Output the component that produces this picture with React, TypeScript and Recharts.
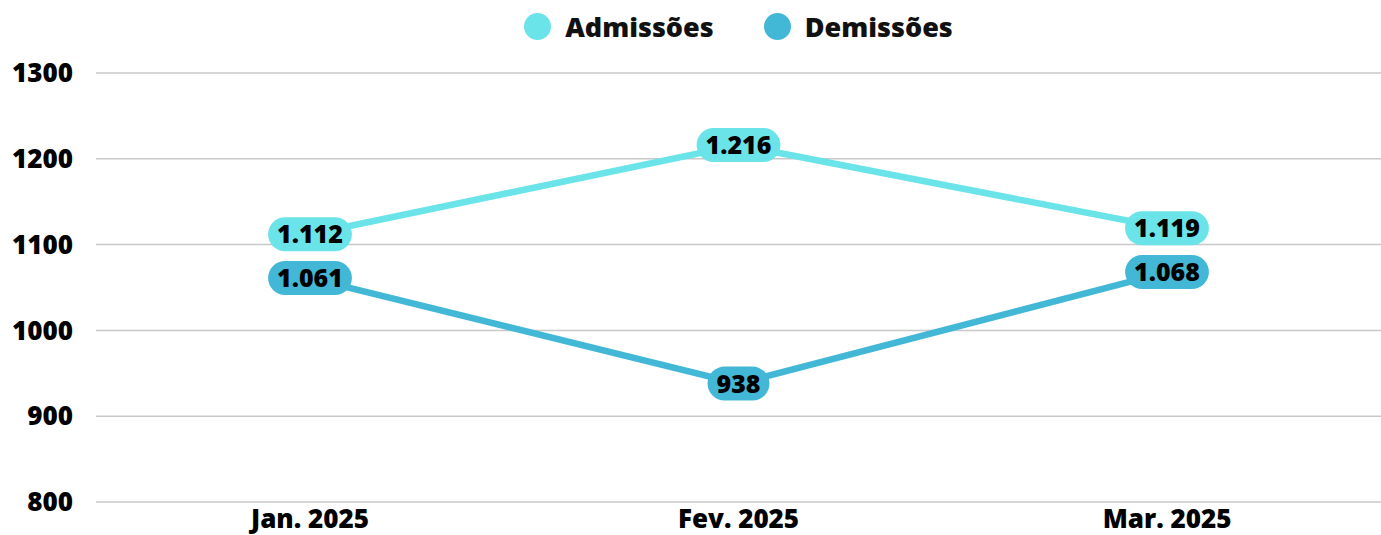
import { CartesianGrid, Legend, LabelList, Line, LineChart, XAxis, YAxis } from "recharts";

const months = ["Jan. 2025", "Fev. 2025", "Mar. 2025"];
const admissoes = [1112, 1216, 1119];
const demissoes = [1061, 938, 1068];
const yTicks = [800, 900, 1000, 1100, 1200, 1300];

const FONT = "'Open Sans', sans-serif";
const ADM_COLOR = "#6ae4e8";
const DEM_COLOR = "#42b8d6";

const data = months.map((m, i) => ({
  month: m,
  adm: admissoes[i],
  dem: demissoes[i],
}));

// pt-BR thousands separator
function fmt(v: number) {
  return String(v).replace(/\B(?=(\d{3})+(?!\d))/g, ".");
}

let ctx: CanvasRenderingContext2D | null = null;
function textWidth(text: string, size: number) {
  if (!ctx) ctx = document.createElement("canvas").getContext("2d");
  if (!ctx) return text.length * size * 0.55;
  ctx.font = `800 ${size}px 'Open Sans'`;
  return ctx.measureText(text).width;
}

function pill(color: string) {
  return (props: any) => {
    const { x, y, value } = props;
    const label = fmt(Number(value));
    const w = textWidth(label, 25) + 18;
    const h = 34;
    return (
      <g>
        <rect x={x - w / 2} y={y - h / 2} width={w} height={h} rx={h / 2} fill={color} />
        <text
          x={x}
          y={y}
          dy="0.36em"
          textAnchor="middle"
          fontFamily={FONT}
          fontWeight={800}
          fontSize={25}
          fill="#000"
        >
          {label}
        </text>
      </g>
    );
  };
}

function LegendBox() {
  const items = [
    { name: "Admissões", color: ADM_COLOR },
    { name: "Demissões", color: DEM_COLOR },
  ];
  return (
    <div
      style={{
        width: 1285,
        marginLeft: 96,
        height: 52,
        display: "flex",
        justifyContent: "center",
        alignItems: "center",
        gap: 50,
      }}
    >
      {items.map((it) => (
        <div key={it.name} style={{ display: "flex", alignItems: "center", gap: 14 }}>
          <span
            style={{
              width: 27,
              height: 27,
              borderRadius: "50%",
              background: it.color,
              display: "inline-block",
            }}
          />
          <span style={{ fontFamily: FONT, fontWeight: 800, fontSize: 27, color: "#111" }}>
            {it.name}
          </span>
        </div>
      ))}
    </div>
  );
}

export default function App() {
  return (
    <div style={{ position: "absolute", left: 0, top: 0, background: "#fff" }}>
      <LineChart
        width={1381}
        height={535}
        data={data}
        margin={{ top: 21, right: 0, bottom: 0, left: 0 }}
      >
        <CartesianGrid vertical={false} stroke="#c8c8c8" strokeWidth={1.5} />
        <XAxis
          dataKey="month"
          axisLine={false}
          tickLine={false}
          tickSize={6}
          tickMargin={2}
          height={33}
          padding={{ left: 214, right: 214 }}
          tick={{ fontFamily: FONT, fontWeight: 800, fontSize: 26, fill: "#000" }}
        />
        <YAxis
          domain={[800, 1300]}
          ticks={yTicks}
          axisLine={false}
          tickLine={false}
          tickSize={6}
          tickMargin={17}
          width={96}
          tick={{ fontFamily: FONT, fontWeight: 800, fontSize: 26, fill: "#000" }}
        />
        <Legend verticalAlign="top" wrapperStyle={{ left: 0, top: 0, width: 1381 }} content={() => <LegendBox />} />
        <Line
          dataKey="adm"
          name="Admissões"
          stroke={ADM_COLOR}
          strokeWidth={6.5}
          dot={false}
          activeDot={false}
          isAnimationActive={false}
        >
          <LabelList dataKey="adm" content={pill(ADM_COLOR)} />
        </Line>
        <Line
          dataKey="dem"
          name="Demissões"
          stroke={DEM_COLOR}
          strokeWidth={6.5}
          dot={false}
          activeDot={false}
          isAnimationActive={false}
        >
          <LabelList dataKey="dem" content={pill(DEM_COLOR)} />
        </Line>
      </LineChart>
    </div>
  );
}
